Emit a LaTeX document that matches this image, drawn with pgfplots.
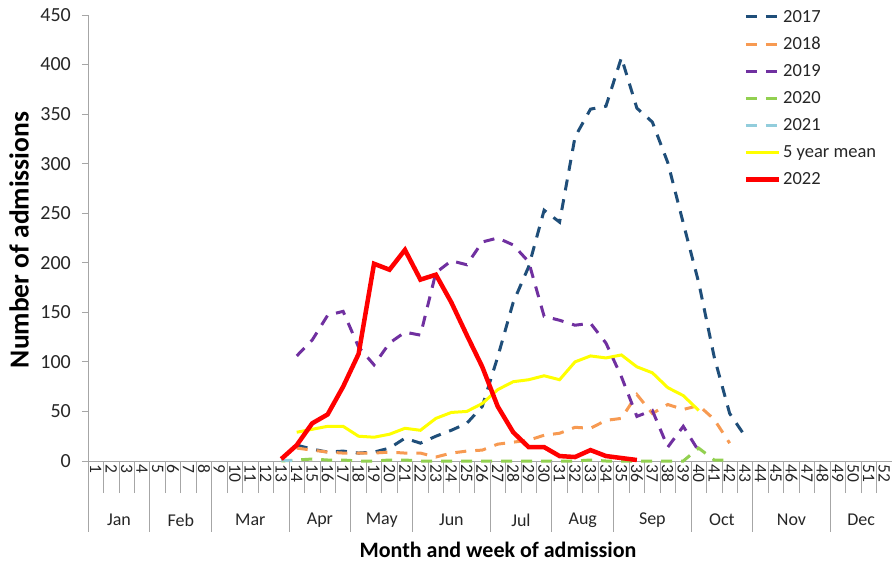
\documentclass[border=0pt]{standalone}
\usepackage{fontspec}
\setmainfont{Carlito}
\usepackage{pgfplots}
\pgfplotsset{compat=1.18}
\definecolor{c17}{HTML}{1F4E79}
\definecolor{c18}{HTML}{F79A52}
\definecolor{c19}{HTML}{7030A0}
\definecolor{c20}{HTML}{92D050}
\definecolor{c21}{HTML}{92CDDC}
\definecolor{cmean}{HTML}{FFFF00}
\definecolor{c22}{HTML}{FF0000}
\definecolor{axgray}{HTML}{A6A6A6}
\begin{document}
\begin{tikzpicture}
\path[use as bounding box] (-88pt,-102pt) rectangle (804pt,461pt);
\begin{axis}[
  scale only axis,
  width=804pt, height=446pt,
  xmin=0.5, xmax=52.5, ymin=0, ymax=450,
  clip=false,
  axis lines=left,
  axis line style={-, draw=axgray, line width=0.8pt},
  xtick={1,...,52},
  minor xtick={0.5,1.5,...,52.5},
  ytick={0,50,...,450},
  tick align=outside,
  major tick length=6pt,
  minor tick length=32pt,
  major x tick style={draw=none},
  minor x tick style={draw=axgray, line width=0.8pt},
  ytick style={draw=axgray, line width=0.8pt},
  /pgf/number format/assume math mode=true,
  ticklabel style={text=black!85},
  xticklabel style={rotate=-90, anchor=west, inner sep=1pt, font=\fontsize{17.5}{21}\selectfont},
  xticklabel shift=-4pt,
  yticklabel style={anchor=east, inner sep=2pt, font=\fontsize{20}{24}\selectfont},
  yticklabel shift=9pt,
  xlabel={Month and week of admission},
  ylabel={Number of admissions},
  every axis x label/.style={at={(axis description cs:0.5,0)}, yshift=-89pt, xshift=8pt, anchor=center, font=\bfseries\fontsize{22}{26}\selectfont},
  every axis y label/.style={at={(axis description cs:0,0.5)}, xshift=-69pt, yshift=-2pt, rotate=90, anchor=center, font=\bfseries\fontsize{27.5}{32}\selectfont},
  legend style={draw=none, fill=none, at={(0.983,1.016)}, anchor=north east, font=\fontsize{18.5}{22}\selectfont, row sep=9.5pt, inner sep=0pt, text=black!85},
  legend cell align=left,
  legend image code/.code={\draw[#1] (0pt,0pt) -- (33pt,0pt);},
]
\addplot[c17, line width=3pt, dash pattern=on 11pt off 9pt] coordinates {
(14,16) (15,12) (16,9) (17,10) (18,8) (19,9) (20,13) (21,23) (22,18) (23,25) (24,31) (25,38) (26,55) (27,105) (28,160) (29,196) (30,253) (31,241) (32,327) (33,355) (34,358) (35,407) (36,356) (37,342) (38,301) (39,240) (40,180) (41,105) (42,48) (43,25)};
\addlegendentry{2017}
\addplot[c18, line width=3pt, dash pattern=on 11pt off 9pt] coordinates {
(14,13) (15,11) (16,9) (17,8) (18,8) (19,8) (20,9) (21,8) (22,8) (23,4) (24,8) (25,10) (26,11) (27,17) (28,19) (29,21) (30,26) (31,28) (32,34) (33,33) (34,41) (35,43) (36,67) (37,48) (38,57) (39,52) (40,56) (41,42) (42,18)};
\addlegendentry{2018}
\addplot[c19, line width=3pt, dash pattern=on 11pt off 9pt] coordinates {
(14,106) (15,122) (16,147) (17,151) (18,115) (19,97) (20,119) (21,130) (22,127) (23,190) (24,202) (25,198) (26,221) (27,225) (28,218) (29,201) (30,146) (31,142) (32,137) (33,139) (34,119) (35,85) (36,45) (37,51) (38,14) (39,35) (40,10)};
\addlegendentry{2019}
\addplot[c20, line width=3pt, dash pattern=on 11pt off 9pt] coordinates {
(13,0) (14,1) (15,2) (16,1) (17,1) (18,0) (19,0) (20,1) (21,1) (22,0) (23,0) (24,0) (25,0) (26,0) (27,0) (28,0) (29,0) (30,0) (31,0) (32,0) (33,1) (34,0) (35,0) (36,0) (37,0) (38,0) (39,0) (40,13) (41,1) (42,1)};
\addlegendentry{2020}
\addplot[c21, line width=3pt, dash pattern=on 11pt off 9pt] coordinates {
(13,1) (14,0)};
\addlegendentry{2021}
\addplot[cmean, line width=3pt] coordinates {
(14,29) (15,32) (16,35) (17,35) (18,25) (19,24) (20,27) (21,33) (22,31) (23,43) (24,49) (25,50) (26,58) (27,72) (28,80) (29,82) (30,86) (31,82) (32,100) (33,106) (34,104) (35,107) (36,95) (37,89) (38,74) (39,66) (40,51)};
\addlegendentry{5 year mean}
\addplot[c22, line width=4.5pt] coordinates {
(13,2) (14,16) (15,38) (16,47) (17,75) (18,108) (19,199) (20,193) (21,213) (22,183) (23,188) (24,160) (25,127) (26,95) (27,55) (28,29) (29,14) (30,14) (31,5) (32,4) (33,11) (34,5) (35,3) (36,1)};
\addlegendentry{2022}
% month separators
\pgfplotsinvokeforeach{0.5,4.5,8.5,13.5,17.5,21.5,26.5,30.5,34.5,39.5,43.5,48.5,52.5}{
  \draw[axgray, line width=0.8pt] (axis cs:#1,0) -- ++(0pt,-71pt);
}
% month labels
\pgfplotsinvokeforeach{{2.5/Jan},{6.5/Feb},{11/Mar},{15.5/Apr},{19.5/May},{24/Jun},{28.5/Jul},{32.5/Aug},{37/Sep},{41.5/Oct},{46/Nov},{50.5/Dec}}{
  \pgfplotsforeachungrouped \p/\m in {#1}{
    \edef\tmp{\noexpand\node[font=\noexpand\fontsize{18}{21}\noexpand\selectfont, text=black!85] at (axis cs:\p,0) [yshift=-59pt] {\m};}
    \tmp
  }
}
\end{axis}
\end{tikzpicture}
\end{document}
